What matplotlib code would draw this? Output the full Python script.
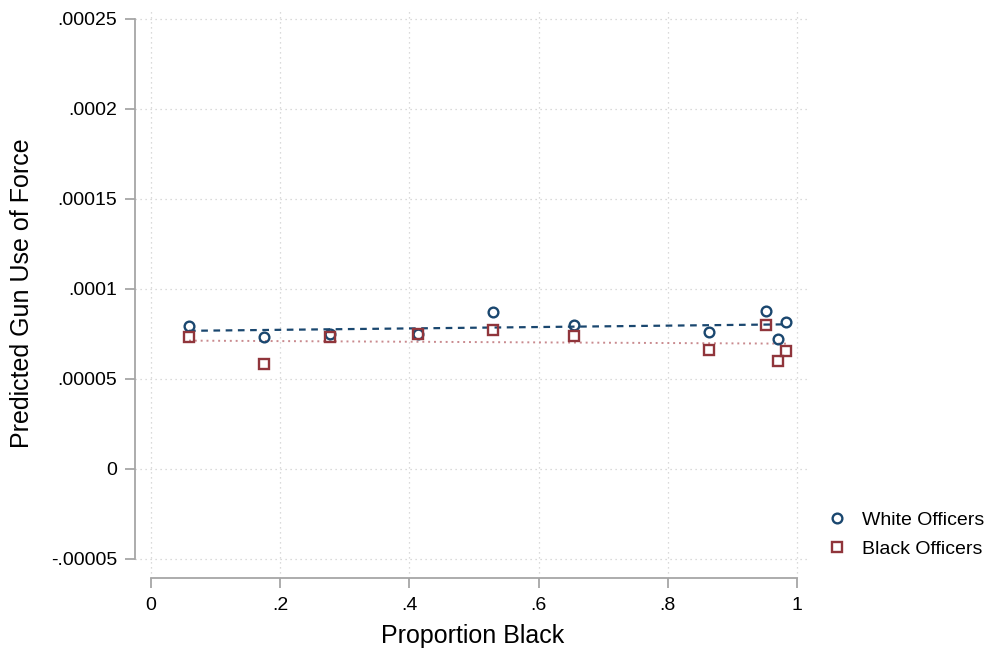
import numpy as np
import matplotlib
matplotlib.use("Agg")
import matplotlib.pyplot as plt

plt.rcParams['font.family'] = ['Liberation Sans', 'DejaVu Sans']

# Predicted gun use of force by share of Black residents
prop_black = [0.0588, 0.1754, 0.2776, 0.4130, 0.5290, 0.6548, 0.8633, 0.9515, 0.9706, 0.9830]
white_officers = [7.96e-5, 7.32e-5, 7.50e-5, 7.52e-5, 8.72e-5, 8.00e-5, 7.61e-5, 8.76e-5, 7.21e-5, 8.15e-5]
black_officers = [7.32e-5, 5.85e-5, 7.32e-5, 7.52e-5, 7.71e-5, 7.39e-5, 6.60e-5, 8.02e-5, 6.00e-5, 6.56e-5]

xticks = [0, 0.2, 0.4, 0.6, 0.8, 1]
xtick_labels = ['0', '.2', '.4', '.6', '.8', '1']
yticks = [-0.00005, 0, 0.00005, 0.0001, 0.00015, 0.0002, 0.00025]
ytick_labels = ['-.00005', '0', '.00005', '.0001', '.00015', '.0002', '.00025']

BLUE = '#1a476f'
RED = '#90353b'
GREY = '#a6a6a6'

fig = plt.figure(figsize=(9.85, 6.49), dpi=100)
ax = fig.add_axes([135 / 985, 1 - 578 / 649, (810 - 135) / 985, (578 - 8) / 649])

x = np.array(prop_black)
xs = np.array([x.min(), x.max()])

# linear fits
bw = np.polyfit(x, white_officers, 1)
bb = np.polyfit(x, black_officers, 1)
ax.plot(xs, np.polyval(bw, xs), color=BLUE, linestyle=(0, (3, 2.5)), linewidth=1.6, zorder=2)
ax.plot(xs, np.polyval(bb, xs), color='#c98a8e', linestyle=(0, (1, 2)), linewidth=1.4, zorder=2)

ax.plot(x, white_officers, 'o', markersize=7, markerfacecolor='none',
        markeredgecolor=BLUE, markeredgewidth=1.7, label='White Officers', zorder=3)
ax.plot(x, black_officers, 's', markersize=7.5, markerfacecolor='none',
        markeredgecolor=RED, markeredgewidth=1.7, label='Black Officers', zorder=3)

ax.set_xlim(-0.0248, 1.0201)
ax.set_ylim(-0.0000606, 0.000256)

ax.set_xticks(xticks)
ax.set_xticklabels(xtick_labels)
ax.set_yticks(yticks)
ax.set_yticklabels(ytick_labels)
ax.grid(True, linestyle=(0, (1, 3)), color='#cfcfcf', linewidth=0.9)
ax.set_axisbelow(True)

for side in ['top', 'right']:
    ax.spines[side].set_visible(False)
ax.spines['left'].set_bounds(yticks[0], yticks[-1])
ax.spines['bottom'].set_bounds(0, 1)
for side in ['left', 'bottom']:
    ax.spines[side].set_color(GREY)
    ax.spines[side].set_linewidth(1.3)
ax.tick_params(axis='both', colors=GREY, labelcolor='black', labelsize=14,
               length=7, width=1.3)
ax.tick_params(axis='y', pad=6)
ax.tick_params(axis='x', pad=7)

ax.set_xlabel('Proportion Black', fontsize=18, labelpad=7)
ax.set_ylabel('Predicted Gun Use of Force', fontsize=18, labelpad=12)

fig.legend(loc='lower left', bbox_to_anchor=(808 / 985, 1 - 575 / 649), frameon=False,
           fontsize=14, handletextpad=0.7, labelspacing=0.55, handlelength=1.2)

fig.savefig('out.png', dpi=100)
